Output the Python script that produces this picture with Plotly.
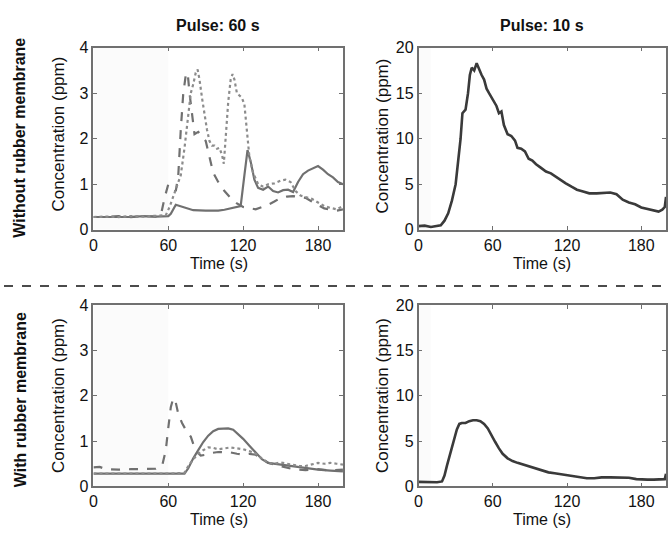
import plotly.graph_objects as go

# ---------------- data ----------------
x_ticks = [0, 60, 120, 180]
y_ticks_small = [0, 1, 2, 3, 4]
y_ticks_big = [0, 5, 10, 15, 20]

col_titles = ["Pulse: 60 s", "Pulse: 10 s"]
row_titles = ["Without rubber membrane", "With rubber membrane"]

# Top-left (60 s pulse, without membrane)
tl_solid_t = [0, 10, 20, 30, 40, 50, 60, 62, 66, 70, 75, 80, 90, 100, 105, 110, 116, 118, 121, 123.5, 126, 129, 132, 136,
              140, 144, 148, 152, 156, 160, 164, 168, 172, 176, 180, 184, 188, 192, 196, 200]
tl_solid_y = [0.28, 0.28, 0.29, 0.28, 0.3, 0.29, 0.3, 0.35, 0.55, 0.52, 0.47, 0.43, 0.42, 0.42, 0.44, 0.47, 0.5, 0.52, 1.2,
              1.75, 1.5, 1.1, 0.92, 0.88, 0.95, 0.85, 0.82, 0.87, 0.88, 0.83, 1.05, 1.22, 1.3, 1.35, 1.4, 1.32, 1.22, 1.15,
              1.05, 1.0]

tl_dash_t = [0, 10, 20, 30, 40, 50, 54, 57, 60, 63, 66, 68, 70, 72, 74, 75.5, 77, 79, 81, 84, 87, 90, 93, 96, 100, 105,
             110, 115, 120, 125, 130, 135, 140, 145, 150, 155, 160, 165, 170, 175, 180, 185, 190, 195, 200]
tl_dash_y = [0.28, 0.28, 0.3, 0.28, 0.3, 0.29, 0.32, 0.7, 1.0, 0.95, 0.85, 1.2, 2.2, 3.0, 3.4, 3.45, 3.0, 2.5, 2.1, 2.15,
             2.05, 1.95, 1.6, 1.25, 1.05, 0.85, 0.7, 0.58, 0.5, 0.48, 0.45, 0.5, 0.55, 0.62, 0.7, 0.73, 0.74, 0.72, 0.7,
             0.62, 0.55, 0.47, 0.44, 0.42, 0.45]

tl_dot_t = [0, 10, 20, 30, 40, 50, 58, 61, 64, 67, 70, 73, 76, 78, 80, 82, 83.5, 85, 87, 89, 91, 93, 95, 97, 99, 101,
            103, 104.5, 106, 108, 110, 111.5, 113, 115, 117, 119, 121, 123, 125, 128, 132, 136, 140, 145, 150, 154, 158,
            162, 166, 170, 175, 180, 185, 190, 195, 200]
tl_dot_y = [0.28, 0.29, 0.28, 0.3, 0.29, 0.3, 0.32, 0.5, 0.75, 0.95, 1.2, 1.8, 2.6, 3.0, 3.2, 3.45, 3.52, 3.3, 2.9, 2.5,
            2.2, 1.95, 1.85, 1.85, 1.78, 1.8, 1.65, 1.45, 2.0, 2.8, 3.3, 3.42, 3.3, 3.0, 2.95, 2.9, 2.75, 2.1, 1.6, 1.25,
            1.0, 0.95, 1.0, 1.02, 1.08, 1.1, 1.05, 0.85, 0.75, 0.72, 0.68, 0.6, 0.52, 0.48, 0.45, 0.52]

# Top-right (10 s pulse, without membrane)
tr_t = [0, 5, 10, 15, 18, 21, 24, 27, 30, 32, 34, 35.5, 38, 40, 41.5, 43, 45, 47, 49, 51, 53, 55, 57, 59, 61, 63, 65, 67,
        69, 72, 75, 78, 80, 83, 86, 89, 92, 95, 99, 103, 107, 111, 115, 119, 124, 128, 133, 138, 144, 150, 155, 160, 165,
        170, 175, 180, 185, 190, 194, 197, 199, 200]
tr_y = [0.4, 0.45, 0.3, 0.4, 0.5, 1.0, 1.8, 3.2, 5.0, 7.5, 10.0, 12.8, 13.2, 15.0, 17.0, 17.8, 17.5, 18.3, 17.6, 17.0,
        16.5, 15.5, 15.0, 14.5, 14.0, 13.6, 12.8, 13.0, 11.5, 10.5, 10.3, 9.8, 9.0, 8.9, 8.6, 7.8, 7.6, 7.2, 6.8, 6.4,
        6.2, 5.8, 5.4, 5.1, 4.7, 4.4, 4.2, 4.0, 4.0, 4.05, 4.1, 3.9, 3.3, 3.0, 2.8, 2.45, 2.3, 2.1, 2.0, 2.2, 2.5, 3.6]

# Bottom-left (60 s pulse, with membrane)
bl_solid_t = [0, 20, 40, 60, 73, 76, 80, 84, 88, 92, 96, 100, 104, 108, 112, 116, 120, 125, 130, 135, 140, 145, 150, 160,
              170, 180, 190, 200]
bl_solid_y = [0.28, 0.28, 0.28, 0.28, 0.28, 0.4, 0.62, 0.8, 0.98, 1.12, 1.22, 1.27, 1.28, 1.28, 1.25, 1.15, 1.05, 0.9,
              0.74, 0.6, 0.52, 0.5, 0.48, 0.45, 0.4, 0.37, 0.35, 0.33]

bl_dash_t = [0, 5, 10, 20, 30, 40, 50, 55, 58, 60, 62, 64, 66, 68, 71, 74, 78, 82, 86, 90, 95, 100, 105, 110, 115, 120,
             125, 130, 135, 140, 145, 150, 155, 160, 170, 180, 190, 200]
bl_dash_y = [0.42, 0.43, 0.38, 0.37, 0.38, 0.38, 0.39, 0.45, 0.8, 1.3, 1.75, 1.95, 1.85, 1.6, 1.4, 1.25, 1.1, 0.78, 0.68,
             0.7, 0.74, 0.76, 0.76, 0.75, 0.72, 0.7, 0.72, 0.7, 0.62, 0.52, 0.48, 0.45, 0.42, 0.38, 0.36, 0.38, 0.35,
             0.37]

bl_dot_t = [0, 20, 40, 60, 73, 76, 80, 84, 88, 92, 96, 100, 105, 110, 115, 120, 125, 130, 135, 140, 145, 150, 155, 160,
            165, 170, 175, 180, 185, 190, 195, 200]
bl_dot_y = [0.28, 0.28, 0.28, 0.28, 0.3, 0.45, 0.6, 0.72, 0.8, 0.86, 0.85, 0.82, 0.84, 0.86, 0.84, 0.82, 0.78, 0.72,
            0.62, 0.52, 0.5, 0.53, 0.5, 0.48, 0.45, 0.45, 0.48, 0.52, 0.5, 0.52, 0.5, 0.48]

# Bottom-right (10 s pulse, with membrane)
br_t = [0, 5, 10, 15, 19, 21, 23, 25, 27, 29, 31, 33, 35, 38, 41, 44, 47, 50, 53, 56, 59, 62, 65, 68, 72, 76, 80, 85, 90,
        95, 100, 105, 110, 115, 120, 125, 130, 136, 142, 148, 155, 162, 170, 176, 180, 185, 190, 195, 199, 200]
br_y = [0.5, 0.5, 0.5, 0.45, 0.55, 1.2, 2.3, 3.3, 4.5, 5.5, 6.3, 6.9, 7.0, 7.0, 7.2, 7.3, 7.3, 7.2, 6.9, 6.4, 5.6, 4.9,
        4.2, 3.6, 3.1, 2.8, 2.6, 2.4, 2.2, 2.0, 1.75, 1.55, 1.45, 1.35, 1.25, 1.15, 1.05, 0.9, 0.9, 1.0, 1.0, 1.0, 0.95,
        0.8, 0.75, 0.75, 0.75, 0.75, 0.8, 1.4]

pulse_lengths = [60, 10]

# ---------------- figure ----------------
W, H = 668, 538
FONT = "Liberation Sans, Arial, sans-serif"
GRAY = "#707070"
DARK = "#3a3a3a"

def px_x(p):
    return p / W

def px_y(p):
    return 1 - p / H

xdom_left = [px_x(90), px_x(341)]
xdom_right = [px_x(417), px_x(666)]
ydom_top = [px_y(229), px_y(41)]
ydom_bot = [px_y(494), px_y(307)]

fig = go.Figure()

def add(t, y, xa, ya, color, dash, width):
    fig.add_trace(go.Scatter(x=t, y=y, mode="lines", xaxis=xa, yaxis=ya, showlegend=False,
                             line=dict(color=color, dash=dash, width=width), hoverinfo="skip"))

add(tl_solid_t, tl_solid_y, "x", "y", GRAY, "solid", 2.2)
add(tl_dash_t, tl_dash_y, "x", "y", GRAY, "dash", 2.2)
add(tl_dot_t, tl_dot_y, "x", "y", "#8c8c8c", "dot", 2.2)
add(tr_t, tr_y, "x2", "y2", DARK, "solid", 2.6)
add(bl_solid_t, bl_solid_y, "x3", "y3", GRAY, "solid", 2.2)
add(bl_dash_t, bl_dash_y, "x3", "y3", GRAY, "dash", 2.2)
add(bl_dot_t, bl_dot_y, "x3", "y3", "#8c8c8c", "dot", 2.2)
add(br_t, br_y, "x4", "y4", DARK, "solid", 2.6)

tickfont = dict(family=FONT, size=16, color="#111")

def xaxis(dom, anchor):
    return dict(domain=dom, anchor=anchor, range=[0, 200], tickvals=x_ticks, ticks="inside", ticklen=4,
                tickcolor=GRAY, showline=True, linecolor=GRAY, linewidth=1.5, mirror="ticks",
                showgrid=False, zeroline=False, tickfont=tickfont, fixedrange=True)

def yaxis(dom, anchor, rng, vals):
    return dict(domain=dom, anchor=anchor, range=rng, tickvals=vals, ticks="inside", ticklen=4,
                tickcolor=GRAY, showline=True, linecolor=GRAY, linewidth=1.5, mirror="ticks",
                showgrid=False, zeroline=False, tickfont=tickfont, fixedrange=True)

fig.update_layout(
    width=W, height=H, margin=dict(l=0, r=0, t=0, b=0),
    paper_bgcolor="white", plot_bgcolor="white",
    font=dict(family=FONT, color="#111"),
    xaxis=xaxis(xdom_left, "y"), yaxis=yaxis(ydom_top, "x", [0, 4], y_ticks_small),
    xaxis2=xaxis(xdom_right, "y2"), yaxis2=yaxis(ydom_top, "x2", [0, 20], y_ticks_big),
    xaxis3=xaxis(xdom_left, "y3"), yaxis3=yaxis(ydom_bot, "x3", [0, 4], y_ticks_small),
    xaxis4=xaxis(xdom_right, "y4"), yaxis4=yaxis(ydom_bot, "x4", [0, 20], y_ticks_big),
)

# faint pulse shading
shapes = []
for xa, ya, p, top in [("x", "y", pulse_lengths[0], 4), ("x2", "y2", pulse_lengths[1], 20),
                       ("x3", "y3", pulse_lengths[0], 4), ("x4", "y4", pulse_lengths[1], 20)]:
    shapes.append(dict(type="rect", xref=xa, yref=ya, x0=0, x1=p, y0=0, y1=top,
                       fillcolor="rgba(0,0,0,0.015)", line=dict(width=0), layer="below"))
# separator
shapes.append(dict(type="line", xref="paper", yref="paper", x0=0, x1=1, y0=px_y(287), y1=px_y(287),
                   line=dict(color="#111", width=1.5, dash="dash")))
fig.update_layout(shapes=shapes)

ann = []
# column titles
for txt, dom in zip(col_titles, [xdom_left, xdom_right]):
    ann.append(dict(text="<b>%s</b>" % txt, x=(dom[0] + dom[1]) / 2, y=px_y(18), xref="paper", yref="paper",
                    showarrow=False, font=dict(family=FONT, size=16, color="#111"),
                    xanchor="center", yanchor="middle"))
# row titles
for txt, yc in zip(row_titles, [134, 404]):
    ann.append(dict(text="<b>%s</b>" % txt, x=px_x(16), y=px_y(yc), xref="paper", yref="paper",
                    showarrow=False, textangle=-90, font=dict(family=FONT, size=16, color="#111"),
                    xanchor="center", yanchor="middle"))
# y axis titles
for xc, yc in [(55, 130), (381, 132), (55, 400), (381, 400)]:
    ann.append(dict(text="Concentration (ppm)", x=px_x(xc), y=px_y(yc), xref="paper", yref="paper",
                    showarrow=False, textangle=-90, font=dict(family=FONT, size=17, color="#111"),
                    xanchor="center", yanchor="middle"))
# x axis titles
for xc, yc in [(216, 264), (541, 264), (216, 528), (541, 528)]:
    ann.append(dict(text="Time (s)", x=px_x(xc), y=px_y(yc), xref="paper", yref="paper",
                    showarrow=False, font=dict(family=FONT, size=16, color="#111"),
                    xanchor="center", yanchor="middle"))
fig.update_layout(annotations=ann)

fig.write_html("out.html", config={"displayModeBar": False},
               post_script="document.body.style.margin='0';document.body.style.overflow='hidden';")
